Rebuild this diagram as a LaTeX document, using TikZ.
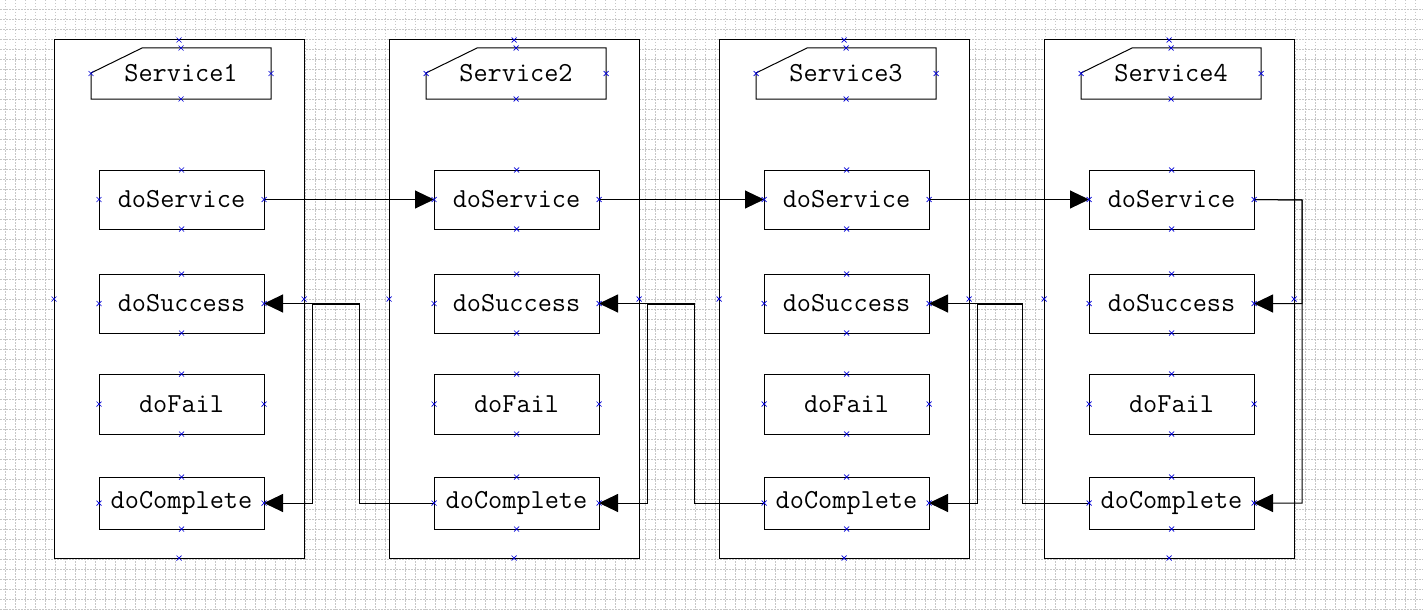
\documentclass[tikz,border=0pt]{standalone}
\usepackage{tikz}
\usetikzlibrary{arrows.meta}

\tikzset{
    gridline/.style={black!22,line width=0.6pt,dash pattern=on 1.5pt off 1.5pt},
    pool/.style={draw,fill=white,line width=1pt,minimum width=250pt,minimum height=518pt,inner sep=0pt,outer sep=0pt},
    tag/.style={minimum width=180pt,minimum height=51pt,inner sep=0pt,outer sep=0pt,font=\fontsize{27.5}{30}\selectfont\ttfamily},
    mbox/.style={draw,fill=white,line width=1pt,minimum width=165pt,minimum height=59pt,inner sep=0pt,outer sep=0pt,font=\fontsize{27.5}{30}\selectfont\ttfamily},
    conn/.style={black,line width=1pt,-{Triangle[length=19pt,width=18pt]}},
    cpmark/.style={blue!85!black,line width=0.7pt}
}

% little crosses on the four sides of a node
\newcommand\cpts[1]{%
    \foreach \a in {north,south,east,west}{%
        \draw[cpmark] (#1.\a) ++(-2.5,-2.5) -- ++(5,5) ++(-5,0) -- ++(5,-5);}}

% outline of the service tag (cut corner top left)
\newcommand\tagline[1]{%
    \draw[line width=1pt] (#1.south west) -- ++(0,-26) -- ([xshift=51pt]#1.north west)
        -- (#1.north east) -- (#1.south east) -- cycle;}

\begin{document}
\begin{tikzpicture}[x=1pt,y=-1pt]
    \useasboundingbox (0,0) rectangle (1423,610);
    \fill[white] (0,0) rectangle (1423,610);
    \foreach \x in {5,15,...,1415} \draw[gridline] (\x,0) -- (\x,610);
    \foreach \y in {9,19,...,609} \draw[gridline] (0,\y) -- (1423,\y);

    \node[pool] (P1) at (179,299) {};
    \node[pool] (P2) at (514,299) {};
    \node[pool] (P3) at (844,299) {};
    \node[pool] (P4) at (1169,299) {};

    \node[tag] (L1) at (181,73.5) {Service1};
    \node[tag] (L2) at (516,73.5) {Service2};
    \node[tag] (L3) at (846,73.5) {Service3};
    \node[tag] (L4) at (1171,73.5) {Service4};
    \tagline{L1}
    \tagline{L2}
    \tagline{L3}
    \tagline{L4}

    \node[mbox] (Sv1) at (181.5,199.5) {doService};
    \node[mbox] (Su1) at (181.5,303.5) {doSuccess};
    \node[mbox,minimum height=60pt] (Fa1) at (181.5,404) {doFail};
    \node[mbox,minimum height=52pt] (Co1) at (181.5,503) {doComplete};

    \node[mbox] (Sv2) at (516.5,199.5) {doService};
    \node[mbox] (Su2) at (516.5,303.5) {doSuccess};
    \node[mbox,minimum height=60pt] (Fa2) at (516.5,404) {doFail};
    \node[mbox,minimum height=52pt] (Co2) at (516.5,503) {doComplete};

    \node[mbox] (Sv3) at (846.5,199.5) {doService};
    \node[mbox] (Su3) at (846.5,303.5) {doSuccess};
    \node[mbox,minimum height=60pt] (Fa3) at (846.5,404) {doFail};
    \node[mbox,minimum height=52pt] (Co3) at (846.5,503) {doComplete};

    \node[mbox] (Sv4) at (1171.5,199.5) {doService};
    \node[mbox] (Su4) at (1171.5,303.5) {doSuccess};
    \node[mbox,minimum height=60pt] (Fa4) at (1171.5,404) {doFail};
    \node[mbox,minimum height=52pt] (Co4) at (1171.5,503) {doComplete};

    % bends of the return lines
    \coordinate (T1) at (359,503);
    \coordinate (V1) at (312,304);
    \coordinate (T2) at (694,503);
    \coordinate (V2) at (647,304);
    \coordinate (T3) at (1022,503);
    \coordinate (V3) at (977,304);
    \coordinate (R4) at (1302,200);

    \draw[conn] (Sv1.east) -- (Sv2.west);
    \draw[conn] (Sv2.east) -- (Sv3.west);
    \draw[conn] (Sv3.east) -- (Sv4.west);

    \draw[conn] (Sv4.east) -- (R4) |- (Su4.east);
    \draw[conn] (Sv4.east) -- (R4) |- (Co4.east);

    \draw[conn] (Co2.west) -- (T1) |- (Su1.east);
    \draw[conn] (Co2.west) -- (T1) |- (V1) |- (Co1.east);
    \draw[conn] (Co3.west) -- (T2) |- (Su2.east);
    \draw[conn] (Co3.west) -- (T2) |- (V2) |- (Co2.east);
    \draw[conn] (Co4.west) -- (T3) |- (Su3.east);
    \draw[conn] (Co4.west) -- (T3) |- (V3) |- (Co3.east);

    \foreach \n in {P1,P2,P3,P4,L1,L2,L3,L4,Sv1,Su1,Fa1,Co1,Sv2,Su2,Fa2,Co2,Sv3,Su3,Fa3,Co3,Sv4,Su4,Fa4,Co4} {\cpts{\n}}
\end{tikzpicture}
\end{document}
